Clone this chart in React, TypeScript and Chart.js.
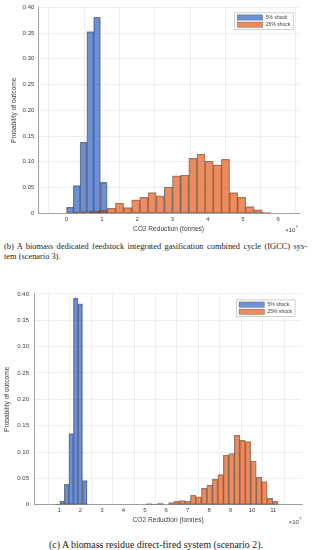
import React, { useEffect, useRef } from 'react';
import { Chart, registerables } from 'chart.js';

Chart.register(...registerables);

const FONT = '"Liberation Sans", Arial, Helvetica, sans-serif';
const SERIF = '"Liberation Serif", "Times New Roman", serif';
const GRID = '#e8e8e8';
const AXIS = '#8a8a8a';
const TEXT = '#3c3c3c';
const BLUE = 'rgba(48, 99, 196, 0.70)';
const ORANGE = 'rgba(226, 92, 28, 0.70)';
const EDGE = 'rgba(30, 30, 30, 0.55)';

const seriesLabels = ['5% shock', '25% shock'];
const yTicks = [0, 0.05, 0.1, 0.15, 0.2, 0.25, 0.3, 0.35, 0.4];
const xTitle = 'CO2 Reduction (tonnes)';
const yTitle = 'Probability of outcome';
const exponentPower = '7';

// Panel (b): IGCC, scenario 3 (x in units of 1e7 tonnes)
const bXTicks = [0, 1, 2, 3, 4, 5, 6];
const bBlueStart = 0;
const bBlueWidth = 0.192;
const bBlue = [0.012, 0.054, 0.138, 0.353, 0.381, 0.06];
const bOrangeStart = 0;
const bOrangeWidth = 0.231;
const bOrange = [
  0.001, 0.002, 0.003, 0.004, 0.006, 0.01, 0.02, 0.011, 0.026, 0.031, 0.04, 0.034, 0.051,
  0.073, 0.074, 0.107, 0.115, 0.101, 0.094, 0.105, 0.04, 0.031, 0.013, 0.0065, 0.002,
];
const bCaption1 = '(b) A biomass dedicated feedstock integrated gasification combined cycle (IGCC) sys-';
const bCaption2 = 'tem (scenario 3).';

// Panel (c): residue direct-fired, scenario 2
const cXTicks = [1, 2, 3, 4, 5, 6, 7, 8, 9, 10, 11];
const cBlueStart = 0.82;
const cBlueWidth = 0.212;
const cBlue = [0.001, 0.007, 0.039, 0.135, 0.392, 0.381, 0.046];
const cOrangeStart = 5.085;
const cOrangeWidth = 0.2558;
const cOrange = [
  0.002, 0.001, 0.003, 0, 0.004, 0.0065, 0.008, 0.0065, 0.018, 0.015, 0.031, 0.037,
  0.048, 0.057, 0.094, 0.097, 0.132, 0.122, 0.12, 0.083, 0.052, 0.044, 0.012, 0.0065,
];
const cCaption = '(c) A biomass residue direct-fired system (scenario 2).';

function toBins(start: number, width: number, values: number[]) {
  return values.map((y, i) => ({ x: start + (i + 0.5) * width, y }));
}

const boxLegend = {
  id: 'boxLegend',
  afterDatasetsDraw(chart: any, _args: any, opts: any) {
    const { ctx, chartArea } = chart;
    const fs = opts.fontSize;
    ctx.save();
    ctx.font = `${fs}px ${FONT}`;
    const ds = chart.data.datasets;
    const textW = Math.max(...ds.map((d: any) => ctx.measureText(d.label).width));
    const sw = opts.swatchW;
    const sh = opts.swatchH;
    const row = opts.rowH;
    const padX = 2.6;
    const gap = 3.2;
    const w = padX + sw + gap + textW + 3;
    const h = row * ds.length + 2.2;
    const x0 = chartArea.right - opts.right - w;
    const y0 = chartArea.top + opts.top;
    ctx.fillStyle = '#ffffff';
    ctx.fillRect(x0, y0, w, h);
    ctx.strokeStyle = '#c4c4c4';
    ctx.lineWidth = 0.8;
    ctx.strokeRect(x0, y0, w, h);
    ds.forEach((d: any, i: number) => {
      const cy = y0 + 1.1 + row * (i + 0.5);
      ctx.fillStyle = d.backgroundColor;
      ctx.fillRect(x0 + padX, cy - sh / 2, sw, sh);
      ctx.strokeStyle = d.borderColor;
      ctx.lineWidth = 0.5;
      ctx.strokeRect(x0 + padX, cy - sh / 2, sw, sh);
      ctx.fillStyle = TEXT;
      ctx.textBaseline = 'middle';
      ctx.textAlign = 'left';
      ctx.fillText(d.label, x0 + padX + sw + gap, cy + 0.3);
    });
    ctx.restore();
  },
};

const exponentLabel = {
  id: 'exponentLabel',
  afterDraw(chart: any, _args: any, opts: any) {
    const { ctx, chartArea } = chart;
    ctx.save();
    ctx.fillStyle = TEXT;
    ctx.textBaseline = 'middle';
    ctx.textAlign = 'right';
    const xr = chartArea.right + opts.dx;
    const y = chartArea.bottom + opts.dy;
    ctx.font = `4.4px ${FONT}`;
    const supW = ctx.measureText(opts.power).width;
    ctx.fillText(opts.power, xr, y - 3);
    ctx.font = `6px ${FONT}`;
    ctx.fillText('\u00d710', xr - supW - 0.2, y);
    ctx.restore();
  },
};

type PanelProps = {
  top: number;
  height: number;
  padTop: number;
  padRight: number;
  yAxisW: number;
  xAxisH: number;
  xMin: number;
  xMax: number;
  xTicks: number[];
  blue: { x: number; y: number }[];
  orange: { x: number; y: number }[];
  yTickPad: number;
  xTickPad: number;
  yTitlePad: number;
  xTitlePad: number;
  legendRight: number;
  legendTop: number;
  expDx: number;
  expDy: number;
};

function HistogramPanel(p: PanelProps) {
  const ref = useRef<HTMLCanvasElement>(null);
  useEffect(() => {
    const setTicks = (vals: number[]) => (scale: any) => {
      scale.ticks = vals.map((v) => ({ value: v }));
    };
    const common = {
      borderColor: EDGE,
      borderWidth: 0.7,
      borderSkipped: false,
      barPercentage: 1,
      categoryPercentage: 1,
      grouped: false,
    };
    const chart = new Chart(ref.current as HTMLCanvasElement, {
      type: 'bar',
      data: {
        datasets: [
          {
            ...common,
            label: seriesLabels[0],
            data: p.blue,
            xAxisID: 'x',
            yAxisID: 'y',
            backgroundColor: BLUE,
            order: 1,
          } as any,
          {
            ...common,
            label: seriesLabels[1],
            data: p.orange,
            xAxisID: 'x2',
            yAxisID: 'y',
            backgroundColor: ORANGE,
            order: 0,
          } as any,
        ],
      },
      options: {
        responsive: false,
        animation: false,
        devicePixelRatio: 1,
        layout: { padding: { left: 0, top: p.padTop, right: p.padRight, bottom: 0 } },
        plugins: {
          legend: { display: false },
          tooltip: { enabled: false },
          boxLegend: { fontSize: 5, swatchW: 25.3, swatchH: 5.3, rowH: 7.2, right: p.legendRight, top: p.legendTop },
          exponentLabel: { power: exponentPower, dx: p.expDx, dy: p.expDy },
        } as any,
        scales: {
          x: {
            type: 'linear',
            min: p.xMin,
            max: p.xMax,
            afterBuildTicks: setTicks(p.xTicks),
            afterFit: (s: any) => {
              s.height = p.xAxisH;
            },
            grid: { color: GRID, lineWidth: 0.8, drawTicks: false },
            border: { display: true, color: AXIS, width: 0.8 },
            ticks: {
              padding: p.xTickPad,
              color: TEXT,
              font: { family: FONT, size: 6 },
              autoSkip: false,
              maxRotation: 0,
            },
            title: {
              display: true,
              text: xTitle,
              color: TEXT,
              font: { family: FONT, size: 6.6 },
              padding: { top: 0, bottom: p.xTitlePad },
            },
          },
          x2: {
            type: 'linear',
            display: false,
            min: p.xMin,
            max: p.xMax,
            afterBuildTicks: setTicks(p.xTicks),
          },
          y: {
            type: 'linear',
            min: 0,
            max: 0.4,
            afterBuildTicks: setTicks(yTicks),
            afterFit: (s: any) => {
              s.width = p.yAxisW;
            },
            grid: { color: GRID, lineWidth: 0.8, drawTicks: false },
            border: { display: true, color: AXIS, width: 0.8 },
            ticks: {
              padding: p.yTickPad,
              color: TEXT,
              font: { family: FONT, size: 6 },
              callback: (v: any) => (Number(v) === 0 ? '0' : Number(v).toFixed(2)),
            },
            title: {
              display: true,
              text: yTitle,
              color: TEXT,
              font: { family: FONT, size: 6.6 },
              padding: { top: p.yTitlePad, bottom: 0 },
            },
          },
        } as any,
      },
      plugins: [boxLegend as any, exponentLabel as any],
    });
    return () => chart.destroy();
  }, []);
  return (
    <div style={{ position: 'absolute', left: 0, top: p.top, width: 312, height: p.height }}>
      <canvas ref={ref} width={312} height={p.height} style={{ display: 'block', width: 312, height: p.height }} />
    </div>
  );
}

export default function App() {
  return (
    <div style={{ position: 'absolute', left: 0, top: 0, width: 312, height: 550, background: '#fff', overflow: 'hidden' }}>
      <HistogramPanel
        top={0}
        height={236}
        padTop={6.2}
        padRight={13}
        yAxisW={38}
        xAxisH={22.7}
        xMin={-0.28}
        xMax={6.06}
        xTicks={bXTicks}
        blue={toBins(bBlueStart, bBlueWidth, bBlue)}
        orange={toBins(bOrangeStart, bOrangeWidth, bOrange)}
        yTickPad={3.7}
        xTickPad={2.4}
        yTitlePad={10}
        xTitlePad={3}
        legendRight={5.7}
        legendTop={5.5}
        expDx={-1}
        expDy={16.7}
      />
      <div
        style={{
          position: 'absolute',
          left: 4,
          top: 242.3,
          width: 303,
          fontFamily: SERIF,
          fontSize: 8.4,
          lineHeight: '10px',
          color: '#222',
        }}
      >
        <div style={{ textAlign: 'justify', textAlignLast: 'justify' }}>{bCaption1}</div>
        <div>{bCaption2}</div>
      </div>
      <HistogramPanel
        top={285}
        height={242}
        padTop={7.3}
        padRight={10}
        yAxisW={34.3}
        xAxisH={22.3}
        xMin={0.41}
        xMax={11.77}
        xTicks={cXTicks}
        blue={toBins(cBlueStart, cBlueWidth, cBlue)}
        orange={toBins(cOrangeStart, cOrangeWidth, cOrange)}
        yTickPad={5.3}
        xTickPad={2.4}
        yTitlePad={3}
        xTitlePad={2.7}
        legendRight={7}
        legendTop={6}
        expDx={-0.5}
        expDy={17.3}
      />
      <div
        style={{
          position: 'absolute',
          left: 0,
          top: 538.5,
          width: 312,
          textAlign: 'center',
          fontFamily: SERIF,
          fontSize: 9.9,
          lineHeight: '11px',
          color: '#222',
        }}
      >
        {cCaption}
      </div>
    </div>
  );
}
